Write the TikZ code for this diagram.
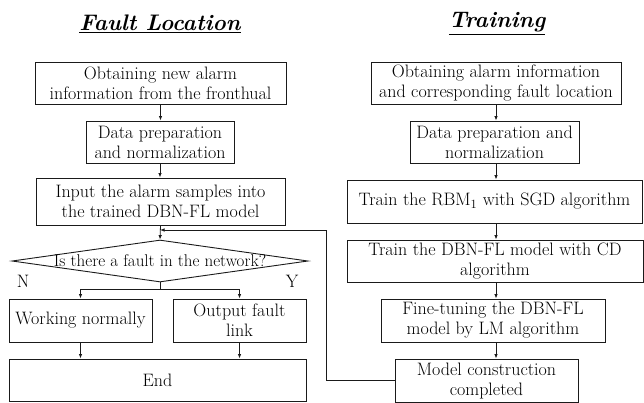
\documentclass[tikz,border=0pt]{standalone}
\usepackage{xcolor}
\usepackage{tikz}
\usetikzlibrary{positioning,arrows.meta,calc,shapes.geometric}
\definecolor{ink}{HTML}{1A1A1A}

\begin{document}
\begin{tikzpicture}[x=1pt,y=-1pt,
    font=\fontsize{18}{20}\selectfont,
    box/.style={draw=ink, line width=0.9pt, align=center, inner sep=0pt},
    dec/.style={draw=ink, line width=0.9pt, diamond, inner sep=0pt,
                minimum width=296pt, minimum height=42pt},
    wire/.style={draw=ink, line width=0.8pt},
    arr/.style={wire, -{Latex[length=4.5pt,width=3.5pt]}},
    ttl/.style={font=\fontsize{22.5}{26}\selectfont\bfseries\itshape}]
  \useasboundingbox (0,0) rectangle (644,402);

  % fault location side
  \node[ttl] (tloc) at (160,23.5) {\underline{Fault Location}};
  \node[box, minimum width=251pt, minimum height=42pt] (newalm) at (160.5,83)
    {Obtaining new alarm\\information from the fronthual};
  \node[box, minimum width=148pt, minimum height=42pt] (prepa) at (160,142)
    {Data preparation\\and normalization};
  \node[box, minimum width=249pt, minimum height=47pt] (input) at (160.5,201.5)
    {Input the alarm samples into\\the trained DBN-FL model};
  \node[dec, label={[font=\fontsize{17}{20}\selectfont]center:Is there a fault in the network?}]
    (fault) at (160,261) {};
  \node (nlab) at (23,281) {N};
  \node (ylab) at (292,281) {Y};
  \node[box, minimum width=143pt, minimum height=43pt] (normal) at (80.5,320.5)
    {Working normally};
  \node[box, minimum width=133pt, minimum height=43pt] (outlink) at (239.5,320.5)
    {Output fault\\link};
  \node[box, minimum width=297pt, minimum height=42pt] (fin) at (157.5,380) {End};

  % training side
  \node[ttl] (ttrain) at (497,23.5) {\underline{Training}};
  \node[box, minimum width=250pt, minimum height=42pt] (oldalm) at (496,83)
    {Obtaining alarm information\\and corresponding fault location};
  \node[box, minimum width=169pt, minimum height=42pt] (prepb) at (494.5,142)
    {Data preparation and\\normalization};
  \node[box, minimum width=295pt, minimum height=43pt] (rbm) at (494.5,201.5)
    {Train the RBM\textsubscript{1} with SGD algorithm};
  \node[box, minimum width=296pt, minimum height=42pt] (cdtrain) at (495,261)
    {Train the DBN-FL model with CD\\algorithm};
  \node[box, minimum width=224pt, minimum height=43pt] (lmtune) at (493,320.5)
    {Fine-tuning the DBN-FL\\model by LM algorithm};
  \node[box, minimum width=183pt, minimum height=43pt] (done) at (486.5,380.5)
    {Model construction\\completed};

  \coordinate (join) at (160,230);

  \draw[arr] (newalm.south) -- (newalm.south |- prepa.north);
  \draw[arr] (prepa.south) -- (prepa.south |- input.north);
  \draw[arr] (input.south) -- (fault.north);
  \draw[wire] (fault.south) -- ++(0,7) coordinate (fork);
  \draw[arr] (fork) -| (normal.north);
  \draw[arr] (fork) -| (outlink.north);
  \draw[arr] (normal.south) -- (normal.south |- fin.north);
  \draw[arr] (outlink.south) -- (outlink.south |- fin.north);

  \draw[arr] (oldalm.south) -- (oldalm.south |- prepb.north);
  \draw[arr] (oldalm.south |- prepb.south) -- (oldalm.south |- rbm.north);
  \draw[arr] (oldalm.south |- rbm.south) -- (oldalm.south |- cdtrain.north);
  \draw[arr] (oldalm.south |- cdtrain.south) -- (oldalm.south |- lmtune.north);
  \draw[arr] (oldalm.south |- lmtune.south) -- (oldalm.south |- done.north);
  \draw[arr] (done.west) -- ++(-68,0) |- (join);
\end{tikzpicture}
\end{document}
